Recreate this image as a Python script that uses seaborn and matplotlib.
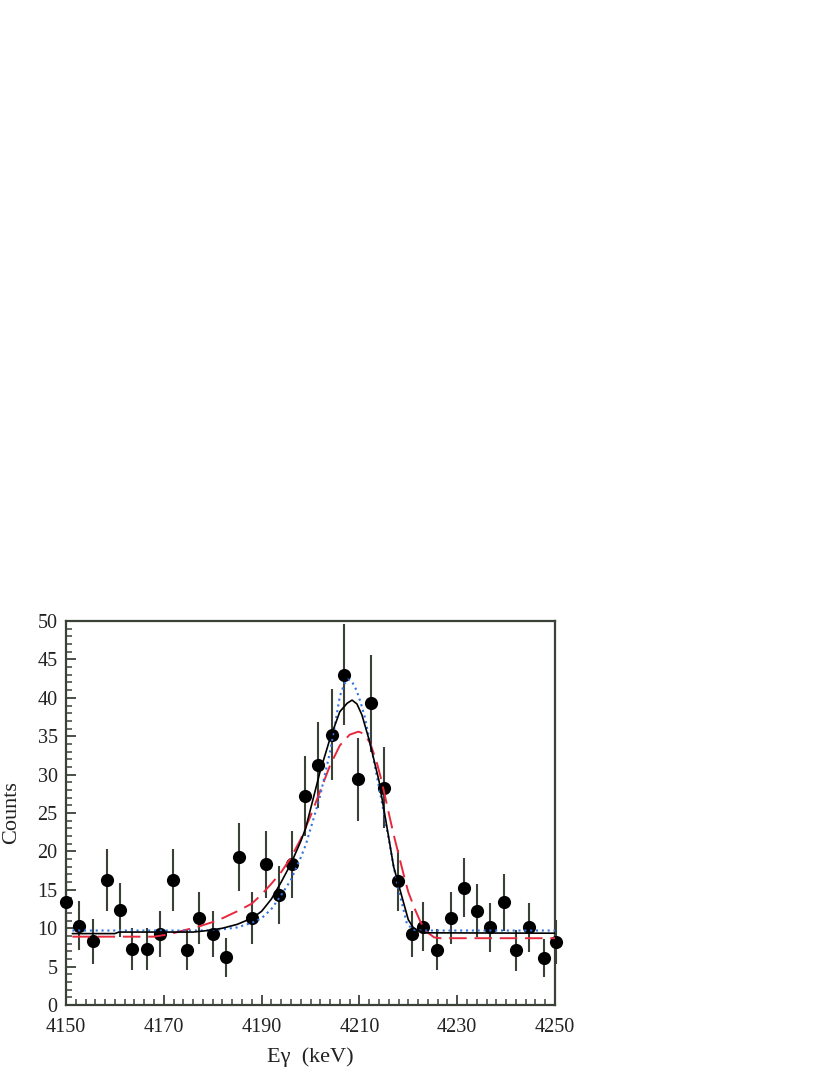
import numpy as np
import pandas as pd
import matplotlib
matplotlib.use("Agg")
import matplotlib.pyplot as plt
from matplotlib.ticker import MultipleLocator
import seaborn as sns

# ── DATA ────────────────────────────────────────────────────
energy = [4150.1, 4152.7, 4155.6, 4158.3, 4161.0, 4163.6, 4166.6, 4169.3, 4171.9, 4174.7,
          4177.2, 4180.0, 4182.8, 4185.4, 4188.0, 4190.8, 4193.6, 4196.3, 4198.9, 4201.6,
          4204.3, 4206.8, 4209.8, 4212.4, 4215.1, 4217.8, 4220.7, 4223.1, 4225.9, 4228.7,
          4231.3, 4234.0, 4236.8, 4239.5, 4242.0, 4244.7, 4247.7, 4250.3]
counts = [13.4, 10.3, 8.3, 16.3, 12.4, 7.3, 7.3, 9.2, 16.3, 7.2,
          11.3, 9.2, 6.2, 19.3, 11.3, 18.3, 14.3, 18.3, 27.2, 31.3,
          35.2, 43.0, 29.4, 39.3, 28.3, 16.2, 9.2, 10.2, 7.2, 11.3,
          15.3, 12.3, 10.1, 13.4, 7.1, 10.1, 6.1, 8.2]
errors = [3.7, 3.2, 2.9, 4.0, 3.5, 2.7, 2.7, 3.0, 4.0, 2.7,
          3.4, 3.0, 2.5, 4.4, 3.4, 4.3, 3.8, 4.3, 5.2, 5.6,
          5.9, 6.6, 5.4, 6.3, 5.3, 4.0, 3.0, 3.2, 2.7, 3.4,
          3.9, 3.5, 3.2, 3.7, 2.7, 3.2, 2.5, 2.9]

# fit curves
fit_black_x = [4151.3, 4160.0, 4160.8, 4176.0, 4179.0, 4182.0, 4185.0, 4188.0, 4190.0, 4192.0,
               4194.0, 4196.0, 4198.0, 4199.0, 4200.0, 4202.0, 4204.0, 4206.0, 4207.5, 4208.5,
               4209.5, 4210.5, 4212.0, 4214.0, 4216.0, 4217.0, 4218.3, 4220.0, 4221.0, 4222.0,
               4223.5, 4250.2]
fit_black_y = [9.3, 9.3, 9.5, 9.5, 9.7, 10.0, 10.5, 11.3, 12.2, 13.8,
               16.0, 18.4, 21.3, 23.0, 25.5, 30.5, 34.7, 38.2, 39.3, 39.7,
               39.2, 37.8, 34.5, 29.2, 21.8, 18.0, 15.0, 11.1, 10.1, 9.7,
               9.4, 9.35]

fit_blue_x = [4151.3, 4178.0, 4182.0, 4185.0, 4188.0, 4190.0, 4192.0, 4194.0, 4196.0, 4198.0,
              4199.0, 4200.5, 4202.0, 4204.0, 4205.0, 4206.0, 4206.9, 4207.7, 4208.5, 4209.4,
              4210.2, 4211.1, 4212.8, 4214.5, 4215.9, 4217.0, 4218.3, 4219.7, 4221.0, 4222.0,
              4250.2]
fit_blue_y = [9.7, 9.7, 9.85, 10.1, 10.7, 11.3, 12.5, 14.3, 16.3, 19.2,
              20.8, 24.0, 27.3, 33.0, 36.5, 40.2, 41.8, 42.4, 42.1, 41.0,
              39.5, 37.5, 32.3, 26.7, 21.9, 18.0, 14.3, 10.6, 9.8, 9.7,
              9.7]

fit_red_x = [4151.3, 4168.0, 4171.0, 4174.0, 4177.0, 4180.0, 4182.0, 4185.0, 4188.0, 4190.0,
             4192.0, 4194.0, 4196.0, 4198.0, 4200.0, 4202.0, 4204.0, 4206.0, 4208.0, 4209.8,
             4211.0, 4212.2, 4213.5, 4214.5, 4216.0, 4217.0, 4219.0, 4220.0, 4221.4, 4222.5,
             4223.7, 4225.3, 4226.5, 4250.2]
fit_red_y = [8.9, 8.9, 9.2, 9.7, 10.2, 10.8, 11.3, 12.2, 13.2, 14.4,
             15.8, 17.3, 19.2, 21.6, 24.6, 27.9, 31.2, 33.8, 35.2, 35.6,
             35.3, 34.1, 31.7, 29.3, 25.0, 22.2, 17.1, 14.7, 12.4, 10.8,
             9.55, 8.8, 8.7, 8.7]

xticks = [4150, 4170, 4190, 4210, 4230, 4250]
yticks = [0, 5, 10, 15, 20, 25, 30, 35, 40, 45, 50]

# ── STYLE ───────────────────────────────────────────────────
sns.set_style("ticks")
plt.rcParams["font.family"] = ["Liberation Serif", "DejaVu Serif"]
AXC = "#3a4238"

points = pd.DataFrame({"E": energy, "N": counts})

fig = plt.figure(figsize=(8.3, 10.75), dpi=100)
ax = fig.add_axes([0.0795, 0.0651, 0.5892, 0.3572])

# data points with error bars
ax.errorbar(energy, counts, yerr=errors, fmt="none", ecolor=AXC, elinewidth=1.5,
            capsize=0, zorder=2, clip_on=False)
sns.scatterplot(data=points, x="E", y="N", ax=ax, color="black", s=90,
                edgecolor="black", linewidth=0, zorder=3, clip_on=False, legend=False)

# fit curves
sns.lineplot(x=fit_red_x, y=fit_red_y, ax=ax, sort=False, color="#e8283c",
             linewidth=1.4, zorder=4)
ax.lines[-1].set_dashes([9, 4])
sns.lineplot(x=fit_blue_x, y=fit_blue_y, ax=ax, sort=False, color="#2f72e0",
             linewidth=1.5, zorder=5)
ax.lines[-1].set_dashes([1, 1.8])
sns.lineplot(x=fit_black_x, y=fit_black_y, ax=ax, sort=False, color="black",
             linewidth=1.2, zorder=6)

# ── AXES ────────────────────────────────────────────────────
ax.set_xlim(4150, 4250)
ax.set_ylim(0, 50)
ax.set_xticks(xticks)
ax.set_yticks(yticks)
ax.xaxis.set_minor_locator(MultipleLocator(2))
ax.yaxis.set_minor_locator(MultipleLocator(1))
ax.tick_params(which="both", direction="in", color=AXC, top=False, right=False,
               labelsize=14.5, labelcolor="#222222")
ax.tick_params(which="major", length=7, width=1.3)
ax.tick_params(which="minor", length=4, width=1.1)
ax.tick_params(axis="x", pad=9)
ax.tick_params(axis="y", pad=6)
for s in ax.spines.values():
    s.set_visible(True)
    s.set_color(AXC)
    s.set_linewidth(1.6)

ax.set_xlabel("Eγ  (keV)", fontsize=16, labelpad=8, color="#222222")
ax.set_ylabel("Counts", fontsize=16, labelpad=12, color="#222222")

plt.savefig("out.png", dpi=100)
